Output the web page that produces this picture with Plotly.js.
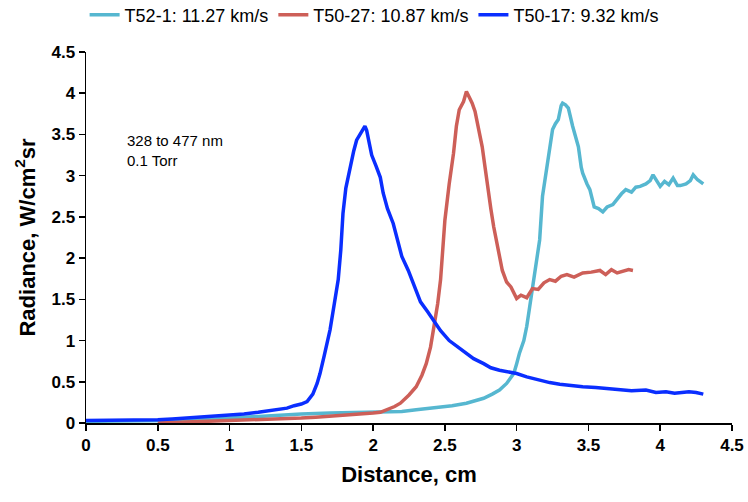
<!DOCTYPE html>
<html>
<head>
<meta charset="utf-8">
<script src="https://cdn.plot.ly/plotly-3.0.1.min.js"></script>
<style>html,body{margin:0;padding:0;background:#fff;}#chart{width:748px;height:502px;}</style>
</head>
<body>
<div id="chart"></div>
<script>
// T52-1: 11.27 km/s
const cyanX = [0,0.3,0.6,0.9,1.0,1.1,1.2,1.3,1.5,1.7,1.9,2.1,2.2,2.3,2.42,2.55,2.65,2.72,2.77,2.83,2.88,2.93,2.98,3.0,3.02,3.05,3.07,3.09,3.11,3.14,3.16,3.18,3.20,3.22,3.25,3.27,3.29,3.31,3.32,3.34,3.36,3.39,3.43,3.45,3.46,3.49,3.51,3.54,3.57,3.60,3.63,3.67,3.70,3.73,3.76,3.80,3.83,3.86,3.90,3.93,3.95,3.98,4.0,4.03,4.06,4.09,4.12,4.14,4.18,4.21,4.23,4.26,4.28,4.30];
const cyanY = [0.02,0.02,0.03,0.05,0.06,0.08,0.09,0.10,0.11,0.12,0.13,0.13,0.14,0.16,0.18,0.21,0.24,0.27,0.30,0.35,0.40,0.48,0.60,0.72,0.85,1.0,1.17,1.4,1.65,1.95,2.22,2.75,3.0,3.19,3.56,3.63,3.68,3.85,3.88,3.86,3.82,3.60,3.35,3.1,3.03,2.9,2.83,2.62,2.6,2.56,2.62,2.65,2.72,2.78,2.83,2.80,2.86,2.87,2.9,2.94,3.01,2.92,2.87,2.93,2.89,2.97,2.88,2.88,2.9,2.94,3.01,2.95,2.93,2.90];

// T50-27: 10.87 km/s
const redX = [0.5,0.6,0.7,0.8,0.9,1.0,1.1,1.2,1.3,1.4,1.5,1.6,1.7,1.8,1.9,2.0,2.05,2.1,2.15,2.19,2.25,2.30,2.34,2.37,2.40,2.42,2.45,2.47,2.50,2.53,2.56,2.58,2.60,2.63,2.65,2.67,2.69,2.71,2.74,2.76,2.78,2.80,2.82,2.84,2.86,2.88,2.90,2.93,2.96,3.0,3.03,3.07,3.11,3.15,3.19,3.23,3.27,3.31,3.35,3.40,3.46,3.52,3.58,3.62,3.66,3.70,3.74,3.78,3.81];
const redY = [0.0,0.005,0.01,0.015,0.02,0.025,0.03,0.035,0.04,0.05,0.06,0.07,0.08,0.10,0.11,0.12,0.13,0.16,0.20,0.24,0.34,0.44,0.58,0.72,0.92,1.13,1.45,1.74,2.46,2.9,3.27,3.6,3.80,3.9,4.02,3.95,3.88,3.78,3.55,3.35,3.1,2.83,2.6,2.38,2.2,2.02,1.85,1.71,1.65,1.51,1.55,1.52,1.63,1.62,1.70,1.74,1.72,1.78,1.80,1.77,1.82,1.83,1.85,1.80,1.86,1.82,1.84,1.86,1.85];

// T50-17: 9.32 km/s
const blueX = [0,0.1,0.2,0.3,0.4,0.5,0.6,0.7,0.8,0.9,1.0,1.1,1.2,1.3,1.35,1.4,1.45,1.5,1.54,1.58,1.61,1.63,1.66,1.70,1.73,1.757,1.775,1.79,1.81,1.84,1.865,1.885,1.91,1.93,1.943,1.955,1.97,1.99,2.02,2.05,2.07,2.10,2.14,2.17,2.2,2.245,2.28,2.33,2.38,2.42,2.47,2.53,2.59,2.65,2.7,2.77,2.82,2.88,2.95,3.0,3.07,3.15,3.23,3.3,3.38,3.46,3.55,3.62,3.7,3.8,3.9,3.97,4.04,4.1,4.15,4.2,4.25,4.3];
const blueY = [0.03,0.03,0.03,0.04,0.04,0.04,0.05,0.06,0.07,0.08,0.09,0.11,0.13,0.15,0.16,0.18,0.21,0.23,0.26,0.35,0.48,0.60,0.82,1.13,1.45,1.74,2.1,2.54,2.85,3.11,3.3,3.43,3.5,3.56,3.60,3.55,3.42,3.25,3.12,2.98,2.79,2.6,2.42,2.2,2.02,1.85,1.7,1.47,1.35,1.25,1.12,1.0,0.92,0.85,0.78,0.72,0.67,0.64,0.62,0.60,0.56,0.52,0.49,0.47,0.45,0.44,0.43,0.42,0.41,0.39,0.40,0.37,0.38,0.36,0.37,0.38,0.37,0.35];

const xTicks = [0,0.5,1,1.5,2,2.5,3,3.5,4,4.5];
const yTicks = [0,0.5,1,1.5,2,2.5,3,3.5,4,4.5];

const FONT = "Liberation Sans, Arial, sans-serif";

const traces = [
  {x: cyanX, y: cyanY, name: 'T52-1: 11.27 km/s', mode: 'lines', line: {color: '#56B7D0', width: 3.5}},
  {x: redX, y: redY, name: 'T50-27: 10.87 km/s', mode: 'lines', line: {color: '#CD5F58', width: 3.5}},
  {x: blueX, y: blueY, name: 'T50-17: 9.32 km/s', mode: 'lines', line: {color: '#0A2EFF', width: 3.5}}
];

const layout = {
  width: 748, height: 502,
  margin: {l: 86, r: 16, t: 52, b: 79, autoexpand: false},
  paper_bgcolor: '#fff', plot_bgcolor: '#fff',
  font: {family: FONT, color: '#000'},
  showlegend: true,
  legend: {orientation: 'h', x: 0.446, xanchor: 'center', y: 1.0997, yanchor: 'middle',
           font: {size: 18, family: FONT, color: '#000'}, itemwidth: 30, tracegroupgap: 0},
  xaxis: {range: [0, 4.5], tickvals: xTicks, ticktext: xTicks.map(String),
          showgrid: false, zeroline: false, showline: true, linecolor: '#000', linewidth: 1.5,
          ticks: 'outside', ticklen: 6, tickcolor: '#000', tickwidth: 1.5,
          tickfont: {size: 17, family: FONT, weight: 'bold'},
          title: {text: 'Distance, cm', font: {size: 22, family: FONT, weight: 'bold'}, standoff: 12}},
  yaxis: {range: [0, 4.5], tickvals: yTicks, ticktext: yTicks.map(String),
          showgrid: false, zeroline: false, showline: true, linecolor: '#000', linewidth: 1.5,
          ticks: 'outside', ticklen: 6, tickcolor: '#000', tickwidth: 1.5,
          tickfont: {size: 17, family: FONT, weight: 'bold'},
          title: {text: 'Radiance, W/cm<sup>2</sup>sr', font: {size: 22, family: FONT, weight: 'bold'}, standoff: 10}},
  annotations: [{
    xref: 'x', yref: 'y', x: 0.27, y: 3.31, xanchor: 'left', yanchor: 'middle', align: 'left',
    text: '328 to 477 nm<br>0.1 Torr', showarrow: false,
    font: {size: 15, family: FONT, color: '#000'}
  }]
};

Plotly.newPlot('chart', traces, layout, {displayModeBar: false, staticPlot: true});
</script>
</body>
</html>
